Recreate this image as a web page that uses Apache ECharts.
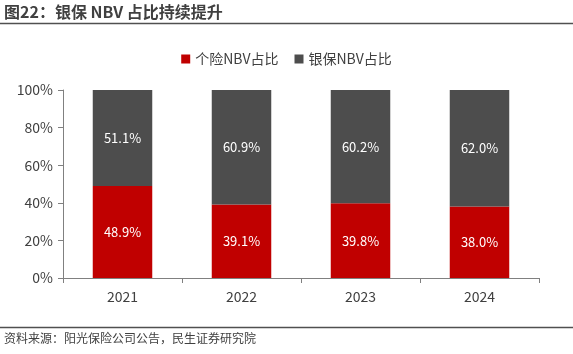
<!DOCTYPE html>
<html><head><meta charset="utf-8">
<script src="https://cdn.jsdelivr.net/npm/echarts@6/dist/echarts.min.js"></script>
<style>html,body{margin:0;padding:0;background:#fff}#c{width:573px;height:354px}</style>
</head><body><div id="c"></div>
<script>
const categories = ['2021', '2022', '2023', '2024'];
const individualShare = [48.9, 39.1, 39.8, 38.0];
const bancaShare = [51.1, 60.9, 60.2, 62.0];
const yTicks = [0, 20, 40, 60, 80, 100];

const chart = echarts.init(document.getElementById('c'));
const font = '"Noto Sans CJK SC", "Open Sans", sans-serif';
chart.setOption({
  animation: false,
  textStyle: { fontFamily: font },
  graphic: [
    { type: 'text', left: 4, top: 4, style: { text: '图22：银保 NBV 占比持续提升', font: 'bold 16px ' + font, fill: '#404040' } },
    { type: 'line', shape: { x1: 0, y1: 23.5, x2: 573, y2: 23.5 }, style: { stroke: '#505050', lineWidth: 1.5 } },
    { type: 'line', shape: { x1: 0, y1: 327.5, x2: 573, y2: 327.5 }, style: { stroke: '#505050', lineWidth: 1.5 } },
    { type: 'text', left: 4, top: 332, style: { text: '资料来源：阳光保险公司公告，民生证券研究院', font: '12px ' + font, fill: '#404040' } }
  ],
  legend: {
    top: 47, left: 'center', itemWidth: 9, itemHeight: 9, itemGap: 16,
    icon: 'rect',
    textStyle: { fontSize: 14, color: '#404040', fontFamily: font },
    data: ['个险NBV占比', '银保NBV占比']
  },
  grid: { left: 63, right: 34, top: 90, bottom: 76, containLabel: false },
  xAxis: {
    type: 'category', data: categories,
    axisLine: { lineStyle: { color: '#808080' } },
    axisTick: { show: true, alignWithLabel: false, length: 5, lineStyle: { color: '#808080' } },
    axisLabel: { fontSize: 14, color: '#404040', margin: 12 }
  },
  yAxis: {
    type: 'value', min: 0, max: 100, interval: 20,
    axisLine: { show: true, lineStyle: { color: '#808080' } },
    axisTick: { show: true, length: 5, inside: false, lineStyle: { color: '#808080' } },
    splitLine: { show: false },
    axisLabel: { fontSize: 14, color: '#404040', formatter: v => v + '%', margin: 10 }
  },
  series: [
    { name: '个险NBV占比', type: 'bar', stack: 's', data: individualShare, barWidth: '50%',
      itemStyle: { color: '#C00000' },
      label: { show: true, position: 'inside', color: '#fff', fontSize: 13, formatter: p => p.value.toFixed(1) + '%' } },
    { name: '银保NBV占比', type: 'bar', stack: 's', data: bancaShare, barWidth: '50%',
      itemStyle: { color: '#4D4D4D' },
      label: { show: true, position: 'inside', color: '#fff', fontSize: 13, formatter: p => p.value.toFixed(1) + '%' } }
  ]
});
</script></body></html>
